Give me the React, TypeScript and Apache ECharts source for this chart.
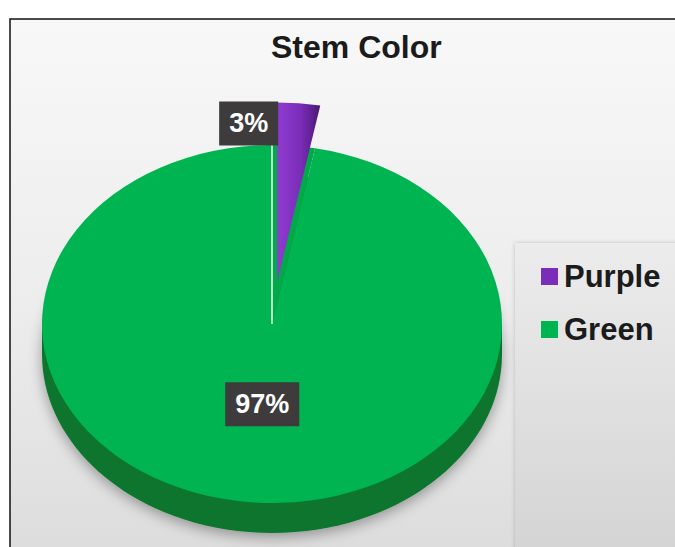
import React, { useEffect, useRef } from 'react';
import * as echarts from 'echarts';

const title = 'Stem Color';
const categories = ['Purple', 'Green'];
const values = [3, 97];
const topColors = ['#7A2DB8', '#00B551'];
const sideColors = ['#4B1673', '#0A752D'];
const explodeDist = [55, 0];

const CX = 272;
const CY = 324;
const RX = 230;
const RY = 179;
const DEPTH = 30;

export default function App() {
  const ref = useRef<HTMLDivElement>(null);
  useEffect(() => {
    const chart = echarts.init(ref.current!, null, { renderer: 'svg' });
    const total = values.reduce((a, b) => a + b, 0);
    const starts: number[] = [];
    let acc = 0;
    values.forEach((v) => {
      starts.push(acc);
      acc += v;
    });
    const toAng = (v: number) => -Math.PI / 2 + (v / total) * Math.PI * 2;
    const k = RY / RX;

    const makeRender = (idx: number) => (params: any, api: any) => {
      const v = api.value(0);
      const a0 = toAng(starts[idx]);
      const a1 = toAng(starts[idx] + v);
      const mid = (a0 + a1) / 2;
      const ex = explodeDist[idx];
      const ox = ex * Math.cos(mid);
      const oy = ex * Math.sin(mid) * k;
      const pct = Math.round((v / total) * 100) + '%';
      const children: any[] = [];
      const labelStyle = {
        text: pct,
        fill: '#ffffff',
        fontSize: 27,
        fontWeight: 'bold',
        fontFamily: '"Liberation Sans", Arial, sans-serif',
        backgroundColor: '#3d3b3c',
        padding: [9, 10, 8, 10],
        verticalAlign: 'middle',
      };
      if (idx === 1) {
        children.push({
          type: 'ellipse',
          shape: { cx: CX, cy: CY + DEPTH, rx: RX, ry: RY },
          style: { fill: sideColors[idx], shadowBlur: 14, shadowColor: 'rgba(0,0,0,0.35)', shadowOffsetY: 4 },
        });
        children.push({
          type: 'rect',
          shape: { x: CX - RX, y: CY, width: 2 * RX, height: DEPTH },
          style: { fill: sideColors[idx] },
        });
        children.push({
          type: 'group',
          x: CX,
          y: CY,
          scaleY: k,
          children: [
            {
              type: 'sector',
              shape: { cx: 0, cy: 0, r: RX, startAngle: a1, endAngle: a0 + Math.PI * 2, clockwise: true },
              style: { fill: '#02a94b' },
            },
            {
              type: 'sector',
              shape: { cx: 0, cy: 0, r: RX, startAngle: a0, endAngle: a1, clockwise: true },
              style: { fill: topColors[idx] },
            },
            {
              type: 'line',
              shape: { x1: RX * Math.cos(a1), y1: RX * Math.sin(a1), x2: 0, y2: 0 },
              style: { stroke: 'rgba(235,255,240,0.75)', lineWidth: 2 },
            },
          ],
        });
        const lr = RX * 0.45;
        children.push({
          type: 'text',
          x: CX + lr * Math.cos(mid),
          y: CY + lr * Math.sin(mid) * k,
          style: { ...labelStyle, align: 'center' },
        });
      } else {
        children.push({
          type: 'group',
          x: CX + ox,
          y: CY + oy,
          scaleY: k,
          children: [
            {
              type: 'sector',
              shape: { cx: 0, cy: 0, r: RX, startAngle: a0, endAngle: a1, clockwise: true },
              style: {
                fill: new echarts.graphic.LinearGradient(0, 0, 1, 0, [
                  { offset: 0, color: '#8f3bd0' },
                  { offset: 0.55, color: topColors[idx] },
                  { offset: 1, color: sideColors[idx] },
                ]),
              },
            },
          ],
        });
        const topX = CX + ox + RX * Math.cos(a0);
        const topY = CY + oy + RY * Math.sin(a0);
        children.push({
          type: 'text',
          x: topX + 1,
          y: topY + 21,
          style: { ...labelStyle, align: 'right' },
        });
      }
      return { type: 'group', children };
    };

    const option: any = {
      animation: false,
      color: topColors,
      title: {
        text: title,
        left: 266,
        top: 26,
        textStyle: {
          fontSize: 32,
          fontWeight: 'bold',
          fontFamily: '"Liberation Sans", Arial, sans-serif',
          color: '#1b1b1b',
        },
      },
      legend: {
        orient: 'vertical',
        left: 536,
        top: 256,
        itemWidth: 17,
        itemHeight: 17,
        itemGap: 22,
        icon: 'rect',
        data: categories,
        textStyle: {
          fontSize: 31,
          fontWeight: 'bold',
          fontFamily: '"Liberation Sans", Arial, sans-serif',
          color: '#1b1b1b',
          padding: [0, 0, 0, 1],
        },
      },
      graphic: [
        {
          type: 'rect',
          z: -10,
          shape: { x: 10, y: 19, width: 700, height: 600 },
          style: {
            fill: new echarts.graphic.LinearGradient(0, 0, 0, 1, [
              { offset: 0, color: '#f8f8f8' },
              { offset: 0.5, color: '#ececec' },
              { offset: 1, color: '#d8d8d8' },
            ]),
            stroke: '#111111',
            lineWidth: 1.5,
          },
        },
        {
          type: 'rect',
          z: -9,
          shape: { x: 515, y: 243, width: 200, height: 400 },
          style: {
            fill: new echarts.graphic.LinearGradient(0, 0, 0, 1, [
              { offset: 0, color: '#ececec' },
              { offset: 1, color: '#cdcdcd' },
            ]),
            shadowBlur: 4,
            shadowColor: 'rgba(0,0,0,0.2)',
          },
        },
      ],
      series: [1, 0].map((idx) => ({
        type: 'custom',
        name: categories[idx],
        coordinateSystem: 'none',
        itemStyle: { color: topColors[idx] },
        data: [[values[idx]]],
        renderItem: makeRender(idx),
      })),
    };
    chart.setOption(option);
    return () => chart.dispose();
  }, []);
  return (
    <div
      ref={ref}
      style={{ position: 'fixed', left: 0, top: 0, width: 675, height: 547, background: '#ffffff' }}
    />
  );
}
